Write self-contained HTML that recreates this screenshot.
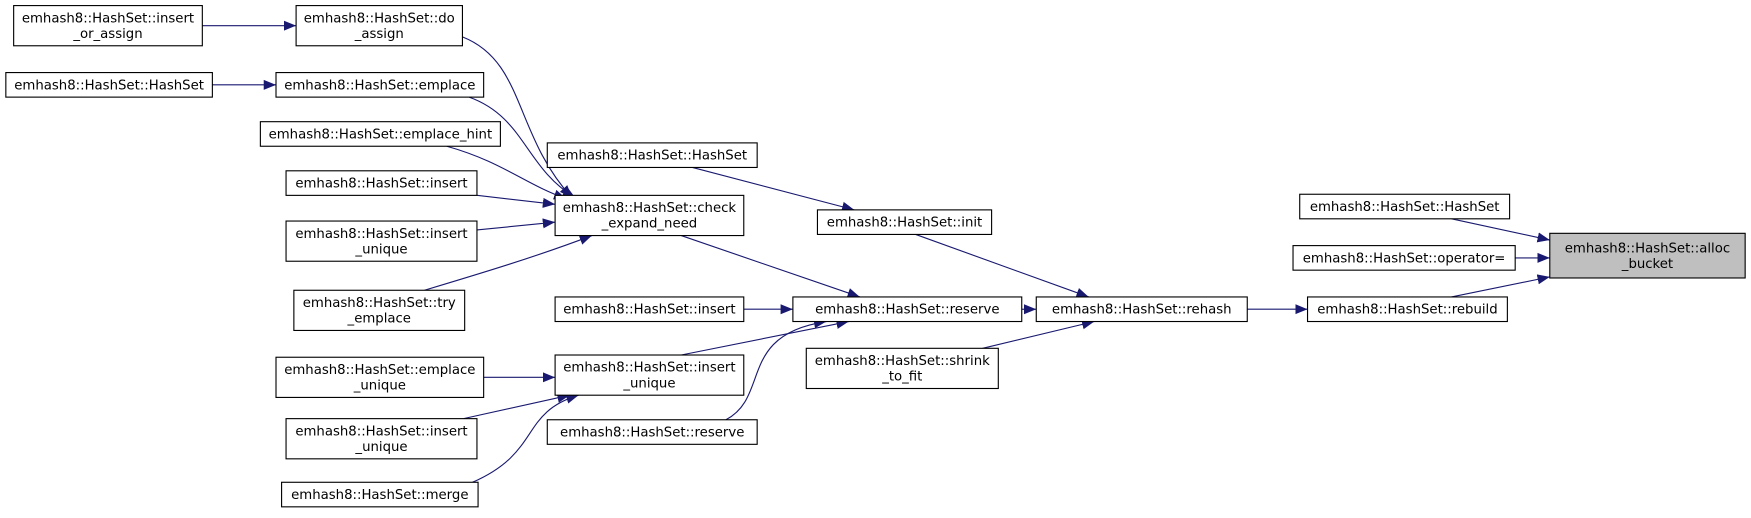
<!DOCTYPE html>
<html><head><meta charset="utf-8"><style>
html,body{margin:0;padding:0;background:#fff;}
svg{display:block;}
text{font-family:"DejaVu Sans","Liberation Sans",sans-serif;font-size:11.9px;fill:#000;}
</style></head><body>
<svg width="1751" height="518" viewBox="0 0 1568 464" xmlns="http://www.w3.org/2000/svg">
<defs><marker id="a" markerWidth="12" markerHeight="10" refX="11" refY="5" orient="auto" markerUnits="userSpaceOnUse"><path d="M0,0.5 L11,5 L0,9.5 z" fill="#191970"/></marker></defs>
<g fill="none" stroke="#191970" stroke-width="1" marker-end="url(#a)">
<path d="M181,23 L265,23"/>
<path d="M414,33 C470,55 460,120 512,177"/>
<path d="M190,76 L247,76"/>
<path d="M420,87 C470,105 470,150 515,177"/>
<path d="M400,131 C450,145 470,165 507,178"/>
<path d="M427,175 L497,183"/>
<path d="M427,206 L497,199"/>
<path d="M380,260 C430,245 480,230 530,211"/>
<path d="M620,150 L765,188"/>
<path d="M610,211 L770,266"/>
<path d="M820,210 L975,266"/>
<path d="M666,277 L710,277"/>
<path d="M610,318 L760,288"/>
<path d="M650,376 C690,355 660,300 740,288"/>
<path d="M915,277 L928,277"/>
<path d="M880,312 L980,288"/>
<path d="M1117,277 L1171,277"/>
<path d="M1300,196 L1388,215"/>
<path d="M1357,231 L1388,231"/>
<path d="M1300,266 L1388,248"/>
<path d="M433,338 L497,338"/>
<path d="M415,375 L510,354"/>
<path d="M423,432 C485,405 465,370 518,354"/>
</g>
<g fill="#fff" stroke="#000" stroke-width="1">
<rect x="12" y="5" width="169" height="36"/>
<rect x="265" y="5" width="149" height="36"/>
<rect x="5" y="65" width="185" height="22"/>
<rect x="247" y="65" width="186" height="22"/>
<rect x="233" y="109" width="215" height="22"/>
<rect x="256" y="153" width="171" height="22"/>
<rect x="256" y="198" width="171" height="36"/>
<rect x="263" y="260" width="153" height="36"/>
<rect x="497" y="175" width="169" height="36"/>
<rect x="490" y="128" width="188" height="22"/>
<rect x="732" y="188" width="156" height="22"/>
<rect x="497" y="266" width="169" height="22"/>
<rect x="710" y="266" width="205" height="22"/>
<rect x="497" y="318" width="169" height="36"/>
<rect x="247" y="320" width="186" height="36"/>
<rect x="256" y="375" width="171" height="36"/>
<rect x="252" y="432" width="176" height="22"/>
<rect x="490" y="376" width="188" height="22"/>
<rect x="722" y="312" width="172" height="36"/>
<rect x="928" y="266" width="189" height="22"/>
<rect x="1171" y="266" width="179" height="22"/>
<rect x="1164" y="174" width="188" height="22"/>
<rect x="1158" y="220" width="199" height="22"/>
<rect x="1388" y="209" width="175" height="40" fill="#bfbfbf"/>
</g>
<g text-anchor="middle">
<text x="96.5" y="20">emhash8::HashSet::insert</text><text x="96.5" y="34">_or_assign</text>
<text x="339.5" y="20">emhash8::HashSet::do</text><text x="339.5" y="34">_assign</text>
<text x="97.5" y="80">emhash8::HashSet::HashSet</text>
<text x="340" y="80">emhash8::HashSet::emplace</text>
<text x="340.5" y="124">emhash8::HashSet::emplace_hint</text>
<text x="341.5" y="168">emhash8::HashSet::insert</text>
<text x="341.5" y="213">emhash8::HashSet::insert</text><text x="341.5" y="227">_unique</text>
<text x="339.5" y="275">emhash8::HashSet::try</text><text x="339.5" y="289">_emplace</text>
<text x="581.5" y="190">emhash8::HashSet::check</text><text x="581.5" y="204">_expand_need</text>
<text x="584" y="143">emhash8::HashSet::HashSet</text>
<text x="810" y="203">emhash8::HashSet::init</text>
<text x="581.5" y="281">emhash8::HashSet::insert</text>
<text x="812.5" y="281">emhash8::HashSet::reserve</text>
<text x="581.5" y="333">emhash8::HashSet::insert</text><text x="581.5" y="347">_unique</text>
<text x="340" y="335">emhash8::HashSet::emplace</text><text x="340" y="349">_unique</text>
<text x="341.5" y="390">emhash8::HashSet::insert</text><text x="341.5" y="404">_unique</text>
<text x="340" y="447">emhash8::HashSet::merge</text>
<text x="584" y="391">emhash8::HashSet::reserve</text>
<text x="808" y="327">emhash8::HashSet::shrink</text><text x="808" y="341">_to_fit</text>
<text x="1022.5" y="281">emhash8::HashSet::rehash</text>
<text x="1260.5" y="281">emhash8::HashSet::rebuild</text>
<text x="1258" y="189">emhash8::HashSet::HashSet</text>
<text x="1257.5" y="235">emhash8::HashSet::operator=</text>
<text x="1475.5" y="226">emhash8::HashSet::alloc</text><text x="1475.5" y="240">_bucket</text>
</g>
</svg>
</body></html>
